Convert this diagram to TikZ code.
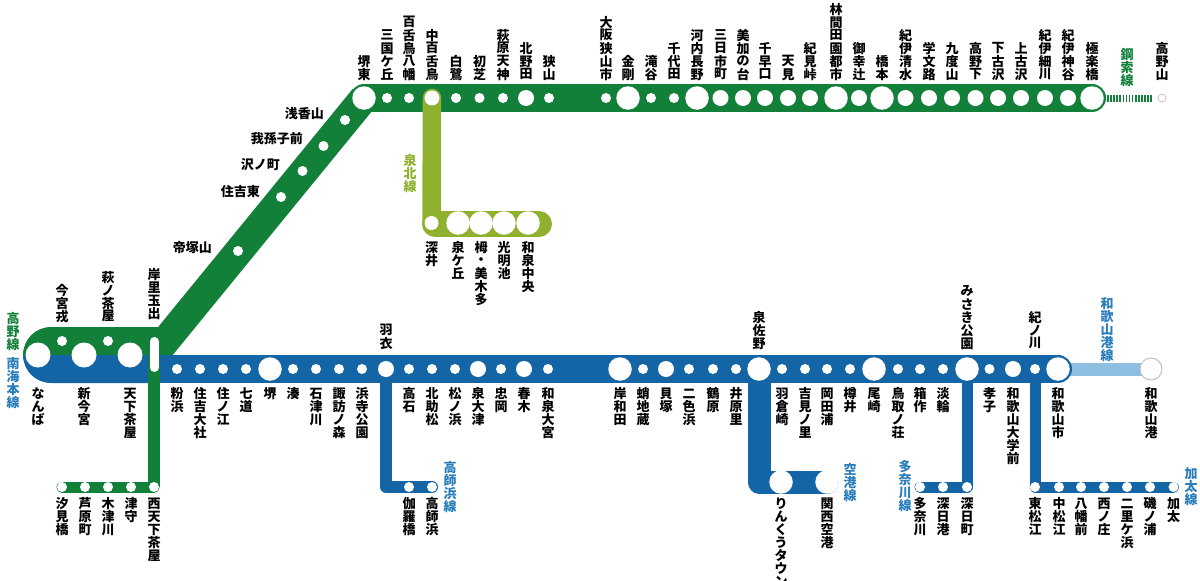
\documentclass[tikz,border=0pt]{standalone}
\usepackage{fontspec}
\usetikzlibrary{backgrounds}
\setmainfont{Noto Sans CJK JP}
\definecolor{tgreen}{HTML}{13803A}
\definecolor{nblue}{HTML}{1365A6}
\definecolor{solive}{HTML}{8FB12E}
\definecolor{wlight}{HTML}{8EBFE0}
\definecolor{lblue}{HTML}{2A7DBB}
\makeatletter
\newcommand{\tate}[1]{\vbox{\offinterlineskip\@tfor\tatec:=#1\do{\hbox to 13pt{\hss\vbox to 13pt{\vss\hbox{\tatec}\vss}\hss}}}}
\makeatother
\tikzset{
  s1/.style={circle,fill=white,inner sep=0pt,minimum size=10pt},
  s2/.style={circle,fill=white,inner sep=0pt,minimum size=16pt},
  s3/.style={circle,fill=white,inner sep=0pt,minimum size=23.5pt},
  up/.style={anchor=south,inner sep=0pt,font=\fontsize{13}{13}\bfseries},
  dn/.style={anchor=north,inner sep=0pt,font=\fontsize{13}{13}\bfseries},
  lt/.style={anchor=east,inner sep=0pt,font=\fontsize{13}{13}\bfseries},
  ln/.style={anchor=north,inner sep=0pt,font=\fontsize{13}{13}\bfseries},
  band/.style={line width=28pt,line cap=round,line join=round},
  thin/.style={line width=11pt,line cap=round,line join=round}
}
\begin{document}
\begin{tikzpicture}[x=1pt,y=-1pt]
\useasboundingbox (0,0) rectangle (1200,581);

% junction points
\coordinate (j0) at (145,366);
\coordinate (j1) at (155,369);
\coordinate (j2) at (154,356);
\coordinate (p0) at (154,341.5);
\coordinate (p1) at (154,367.5);
\coordinate (w0) at (386,487);
\coordinate (ku0) at (759,482);
\coordinate (ta0) at (967,487);
\coordinate (ka0) at (1035,487);
\coordinate (se0) at (435,224);
\coordinate (se1) at (539,224);
\coordinate (co0) at (1107,98);
\coordinate (co1) at (1152,98);

% koya line
\node[s3] (sakaihigashi) at (364,98) {};
\node[up] (lsakaihigashi) at (364,81) {\tate{堺東}};
\node[s1] (mikunigaoka) at (387,98) {};
\node[up] (lmikunigaoka) at (387,81) {\tate{三国ケ丘}};
\node[s1] (mozuhachiman) at (409,98) {};
\node[up] (lmozuhachiman) at (409,81) {\tate{百舌鳥八幡}};
\node[s1,minimum size=15pt] (nakamozu) at (432,98) {};
\node[up] (lnakamozu) at (432,81) {\tate{中百舌鳥}};
\node[s1] (shirasagi) at (456,98) {};
\node[up] (lshirasagi) at (456,81) {\tate{白鷺}};
\node[s1] (hatsushiba) at (479.5,98) {};
\node[up] (lhatsushiba) at (479.5,81) {\tate{初芝}};
\node[s1] (hagiharatenjin) at (503,98) {};
\node[up] (lhagiharatenjin) at (503,81) {\tate{萩原天神}};
\node[s2] (kitanoda) at (526,98) {};
\node[up] (lkitanoda) at (526,81) {\tate{北野田}};
\node[s1] (sayama) at (549,98) {};
\node[up] (lsayama) at (549,81) {\tate{狭山}};
\node[s1] (osakasayamashi) at (606,98) {};
\node[up] (losakasayamashi) at (606,81) {\tate{大阪狭山市}};
\node[s3] (kongo) at (628,98) {};
\node[up] (lkongo) at (628,81) {\tate{金剛}};
\node[s1] (takiya) at (651,98) {};
\node[up] (ltakiya) at (651,81) {\tate{滝谷}};
\node[s1] (chiyoda) at (674,98) {};
\node[up] (lchiyoda) at (674,81) {\tate{千代田}};
\node[s3] (kawachinagano) at (697,98) {};
\node[up] (lkawachinagano) at (697,81) {\tate{河内長野}};
\node[s2] (mikkaichicho) at (720.5,98) {};
\node[up] (lmikkaichicho) at (720.5,81) {\tate{三日市町}};
\node[s2] (mikanodai) at (743,98) {};
\node[up] (lmikanodai) at (743,81) {\tate{美加の台}};
\node[s2] (chihayaguchi) at (765,98) {};
\node[up] (lchihayaguchi) at (765,81) {\tate{千早口}};
\node[s2] (amami) at (788,98) {};
\node[up] (lamami) at (788,81) {\tate{天見}};
\node[s2] (kimitoge) at (810,98) {};
\node[up] (lkimitoge) at (810,81) {\tate{紀見峠}};
\node[s3] (rinkan) at (836,98) {};
\node[up] (lrinkan) at (836,81) {\tate{林間田園都市}};
\node[s2] (miyukitsuji) at (859,98) {};
\node[up] (lmiyukitsuji) at (859,81) {\tate{御幸辻}};
\node[s3] (hashimoto) at (882,98) {};
\node[up] (lhashimoto) at (882,81) {\tate{橋本}};
\node[s2] (kiishimizu) at (905.5,98) {};
\node[up] (lkiishimizu) at (905.5,81) {\tate{紀伊清水}};
\node[s2] (kamuro) at (929,98) {};
\node[up] (lkamuro) at (929,81) {\tate{学文路}};
\node[s2] (kudoyama) at (952,98) {};
\node[up] (lkudoyama) at (952,81) {\tate{九度山}};
\node[s2] (koyashita) at (975.5,98) {};
\node[up] (lkoyashita) at (975.5,81) {\tate{高野下}};
\node[s2] (shimokosawa) at (998,98) {};
\node[up] (lshimokosawa) at (998,81) {\tate{下古沢}};
\node[s2] (kamikosawa) at (1021,98) {};
\node[up] (lkamikosawa) at (1021,81) {\tate{上古沢}};
\node[s2] (kiihosokawa) at (1045,98) {};
\node[up] (lkiihosokawa) at (1045,81) {\tate{紀伊細川}};
\node[s2] (kiikamiya) at (1068,98) {};
\node[up] (lkiikamiya) at (1068,81) {\tate{紀伊神谷}};
\node[s3] (gokurakubashi) at (1092,98) {};
\node[up] (lgokurakubashi) at (1092,81) {\tate{極楽橋}};
\node[circle,draw=black!20,line width=1pt,fill=white,inner sep=0pt,minimum size=8pt] (koyasan) at (1162,98) {};
\node[up] (lkoyasan) at (1162,81) {\tate{高野山}};

% diagonal
\node[s1] (asakayama) at (345,120) {};
\node[lt] (lasakayama) at (324,114) {浅香山};
\node[s1] (abikomae) at (323.5,146) {};
\node[lt] (labikomae) at (303,139) {我孫子前};
\node[s1] (sawanocho) at (302.5,171) {};
\node[lt] (lsawanocho) at (280,165) {沢ノ町};
\node[s1] (sumiyoshihigashi) at (281,197) {};
\node[lt] (lsumiyoshihigashi) at (260,192) {住吉東};
\node[s1] (tezukayama) at (238,251) {};
\node[lt] (ltezukayama) at (212,248) {帝塚山};

% semboku line
\node[s1,minimum size=14pt] (fukai) at (431.5,223) {};
\node[dn] (lfukai) at (431.5,241) {\tate{深井}};
\node[s3] (izumigaoka) at (458,223) {};
\node[dn] (lizumigaoka) at (458,241) {\tate{泉ケ丘}};
\node[s3] (toga) at (481,223) {};
\node[dn] (ltoga) at (481,241) {\tate{栂・美木多}};
\node[s3] (komyoike) at (504,223) {};
\node[dn] (lkomyoike) at (504,241) {\tate{光明池}};
\node[s3] (wadachuo) at (528,223) {};
\node[dn] (lwadachuo) at (528,241) {\tate{和泉中央}};

% nankai main line
\node[s3,minimum size=25pt] (namba) at (38,355) {};
\node[dn] (lnamba) at (38,387) {\tate{なんば}};
\node[s1] (imamiyaebisu) at (62,341) {};
\node[up] (limamiyaebisu) at (62,323) {\tate{今宮戎}};
\node[s3,minimum size=25pt] (shinimamiya) at (84,355) {};
\node[dn] (lshinimamiya) at (84,387) {\tate{新今宮}};
\node[s1] (haginochaya) at (108,341) {};
\node[up] (lhaginochaya) at (108,323) {\tate{萩ノ茶屋}};
\node[s3,minimum size=25pt] (tengachaya) at (130,355) {};
\node[dn] (ltengachaya) at (130,387) {\tate{天下茶屋}};
\node[up] (lkishinosato) at (154,320) {\tate{岸里玉出}};
\node[s1] (kohama) at (177,369) {};
\node[dn] (lkohama) at (177,387) {\tate{粉浜}};
\node[s1] (sumiyoshitaisha) at (200,369) {};
\node[dn] (lsumiyoshitaisha) at (200,387) {\tate{住吉大社}};
\node[s1] (suminoe) at (223,369) {};
\node[dn] (lsuminoe) at (223,387) {\tate{住ノ江}};
\node[s1] (shichido) at (246,369) {};
\node[dn] (lshichido) at (246,387) {\tate{七道}};
\node[s3] (sakai) at (270,369) {};
\node[dn] (lsakai) at (270,387) {\tate{堺}};
\node[s1] (minato) at (293,369) {};
\node[dn] (lminato) at (293,387) {\tate{湊}};
\node[s1] (ishizugawa) at (316,369) {};
\node[dn] (lishizugawa) at (316,387) {\tate{石津川}};
\node[s1] (suwanomori) at (339,369) {};
\node[dn] (lsuwanomori) at (339,387) {\tate{諏訪ノ森}};
\node[s1] (hamaderakoen) at (362,369) {};
\node[dn] (lhamaderakoen) at (362,387) {\tate{浜寺公園}};
\node[s2] (hagoromo) at (386,369) {};
\node[up] (lhagoromo) at (386,350) {\tate{羽衣}};
\node[s1] (takaishi) at (409,369) {};
\node[dn] (ltakaishi) at (409,387) {\tate{高石}};
\node[s1] (kitasukematsu) at (432,369) {};
\node[dn] (lkitasukematsu) at (432,387) {\tate{北助松}};
\node[s1] (matsunohama) at (455,369) {};
\node[dn] (lmatsunohama) at (455,387) {\tate{松ノ浜}};
\node[s2] (izumiotsu) at (478,369) {};
\node[dn] (lizumiotsu) at (478,387) {\tate{泉大津}};
\node[s1] (tadaoka) at (501,369) {};
\node[dn] (ltadaoka) at (501,387) {\tate{忠岡}};
\node[s2] (haruki) at (524,369) {};
\node[dn] (lharuki) at (524,387) {\tate{春木}};
\node[s1] (izumiomiya) at (548,369) {};
\node[dn] (lizumiomiya) at (548,387) {\tate{和泉大宮}};
\node[s3] (kishiwada) at (620,369) {};
\node[dn] (lkishiwada) at (620,387) {\tate{岸和田}};
\node[s1] (takojizo) at (643,369) {};
\node[dn] (ltakojizo) at (643,387) {\tate{蛸地蔵}};
\node[s2] (kaizuka) at (666,369) {};
\node[dn] (lkaizuka) at (666,387) {\tate{貝塚}};
\node[s1] (nishikinohama) at (689,369) {};
\node[dn] (lnishikinohama) at (689,387) {\tate{二色浜}};
\node[s1] (tsuruhara) at (713,369) {};
\node[dn] (ltsuruhara) at (713,387) {\tate{鶴原}};
\node[s1] (iharanosato) at (736,369) {};
\node[dn] (liharanosato) at (736,387) {\tate{井原里}};
\node[s3] (izumisano) at (759,369) {};
\node[up] (lizumisano) at (759,350) {\tate{泉佐野}};
\node[s1] (hagurazaki) at (782,369) {};
\node[dn] (lhagurazaki) at (782,387) {\tate{羽倉崎}};
\node[s1] (yoshiminosato) at (805,369) {};
\node[dn] (lyoshiminosato) at (805,387) {\tate{吉見ノ里}};
\node[s1] (okadaura) at (827,369) {};
\node[dn] (lokadaura) at (827,387) {\tate{岡田浦}};
\node[s1] (tarui) at (850,369) {};
\node[dn] (ltarui) at (850,387) {\tate{樽井}};
\node[s3] (ozaki) at (874,369) {};
\node[dn] (lozaki) at (874,387) {\tate{尾崎}};
\node[s1] (tottorinosho) at (898,369) {};
\node[dn] (ltottorinosho) at (898,387) {\tate{鳥取ノ荘}};
\node[s1] (hakotsukuri) at (920,369) {};
\node[dn] (lhakotsukuri) at (920,387) {\tate{箱作}};
\node[s1] (tanowa) at (943,369) {};
\node[dn] (ltanowa) at (943,387) {\tate{淡輪}};
\node[s3] (misakikoen) at (967,369) {};
\node[up] (lmisakikoen) at (967,350) {\tate{みさき公園}};
\node[s1] (kyoshi) at (989.5,369) {};
\node[dn] (lkyoshi) at (989.5,387) {\tate{孝子}};
\node[s2] (wakayamadaigaku) at (1013,369) {};
\node[dn] (lwakayamadaigaku) at (1013,387) {\tate{和歌山大学前}};
\node[s1] (kinokawa) at (1035,369) {};
\node[up] (lkinokawa) at (1035,350) {\tate{紀ノ川}};
\node[s3] (wakayamashi) at (1058,369) {};
\node[dn] (lwakayamashi) at (1058,387) {\tate{和歌山市}};
\node[circle,draw=black!25,line width=1pt,fill=white,inner sep=0pt,minimum size=22pt] (wakayamako) at (1151,369) {};
\node[dn] (lwakayamako) at (1151,387) {\tate{和歌山港}};

% branches
\node[s1] (shiomibashi) at (62,487) {};
\node[dn] (lshiomibashi) at (62,497) {\tate{汐見橋}};
\node[s1] (ashiharacho) at (85,487) {};
\node[dn] (lashiharacho) at (85,497) {\tate{芦原町}};
\node[s1] (kizugawa) at (108,487) {};
\node[dn] (lkizugawa) at (108,497) {\tate{木津川}};
\node[s1] (tsumori) at (131,487) {};
\node[dn] (ltsumori) at (131,497) {\tate{津守}};
\node[s1] (nishitengachaya) at (154,487) {};
\node[dn] (lnishitengachaya) at (154,497) {\tate{西天下茶屋}};
\node[s1] (kyarabashi) at (409,487) {};
\node[dn] (lkyarabashi) at (409,497) {\tate{伽羅橋}};
\node[s1] (takashinohama) at (432,487) {};
\node[dn] (ltakashinohama) at (432,497) {\tate{高師浜}};
\node[s3] (rinku) at (781,482) {};
\node[dn] (lrinku) at (781,497) {\tate{りんくうタウン}};
\node[s3] (kansai) at (827,482) {};
\node[dn] (lkansai) at (827,497) {\tate{関西空港}};
\node[s1] (tanagawa) at (920,487) {};
\node[dn] (ltanagawa) at (920,497) {\tate{多奈川}};
\node[s1] (fukeko) at (943,487) {};
\node[dn] (lfukeko) at (943,497) {\tate{深日港}};
\node[s1] (fukecho) at (967,487) {};
\node[dn] (lfukecho) at (967,497) {\tate{深日町}};
\node[s1] (higashimatsue) at (1035,487) {};
\node[dn] (lhigashimatsue) at (1035,497) {\tate{東松江}};
\node[s1] (nakamatsue) at (1059,487) {};
\node[dn] (lnakamatsue) at (1059,497) {\tate{中松江}};
\node[s1] (hachimanmae) at (1081,487) {};
\node[dn] (lhachimanmae) at (1081,497) {\tate{八幡前}};
\node[s1] (nishinosho) at (1104,487) {};
\node[dn] (lnishinosho) at (1104,497) {\tate{西ノ庄}};
\node[s1] (nirigahama) at (1127,487) {};
\node[dn] (lnirigahama) at (1127,497) {\tate{二里ケ浜}};
\node[s1] (isonoura) at (1150,487) {};
\node[dn] (lisonoura) at (1150,497) {\tate{磯ノ浦}};
\node[s1] (kada) at (1173.5,487) {};
\node[dn] (lkada) at (1173.5,497) {\tate{加太}};

% line names
\node[ln,text=tgreen] (ntkoya) at (13,312) {\tate{高野線}};
\node[ln,text=lblue] (ntnankai) at (13,357) {\tate{南海本線}};
\node[ln,text=solive] (ntsemboku) at (410,154) {\tate{泉北線}};
\node[ln,text=tgreen] (ntcable) at (1127,48) {\tate{鋼索線}};
\node[ln,text=lblue] (ntwakako) at (1107,297) {\tate{和歌山港線}};
\node[ln,text=lblue] (nttakashi) at (450,461) {\tate{高師浜線}};
\node[ln,text=lblue] (ntkuko) at (850,463) {\tate{空港線}};
\node[ln,text=lblue] (nttana) at (905,460) {\tate{多奈川線}};
\node[ln,text=lblue] (ntkada) at (1191,467) {\tate{加太線}};

% lines, under the stations
\begin{pgfonlayer}{background}
\draw[tgreen,line width=7pt,dash pattern=on 1.6pt off 1.5pt] (co0) -- (co1);
\draw[wlight,line width=13pt] (wakayamashi.center) -- (wakayamako.center);
\fill[tgreen] (23,355) .. controls (23,339.5) and (35.5,327) .. (51,327) -- (160,327) -- (160,356) -- cycle;
\draw[tgreen,line width=29pt] (j0) -- (sakaihigashi.center);
\draw[tgreen,band] (sakaihigashi.center) -- (gokurakubashi.center);
\draw[solive,line width=18.5pt,line cap=round] (nakamozu.center) -- (fukai.center);
\draw[solive,line width=26pt,line cap=round] (se0) -- (se1);
\fill[nblue] (23,355) .. controls (23,370.5) and (35.5,383) .. (51,383) -- (160,383) -- (160,355) -- cycle;
\draw[nblue,band] (j1) -- (wakayamashi.center);
\draw[nblue,thin,line width=12pt] (hagoromo.center) -- (w0) -- (takashinohama.center);
\draw[nblue,line width=23pt,line cap=round,line join=round] (izumisano.center) -- (ku0) -- (kansai.center);
\draw[nblue,thin] (misakikoen.center) -- (ta0) -- (tanagawa.center);
\draw[nblue,thin] (kinokawa.center) -- (ka0) -- (kada.center);
\draw[tgreen,line width=12pt] (j2) -- (nishitengachaya.center);
\draw[tgreen,thin] (nishitengachaya.center) -- (shiomibashi.center);
\draw[white,line width=9pt,line cap=round] (p0) -- (p1);
\end{pgfonlayer}
\end{tikzpicture}
\end{document}
